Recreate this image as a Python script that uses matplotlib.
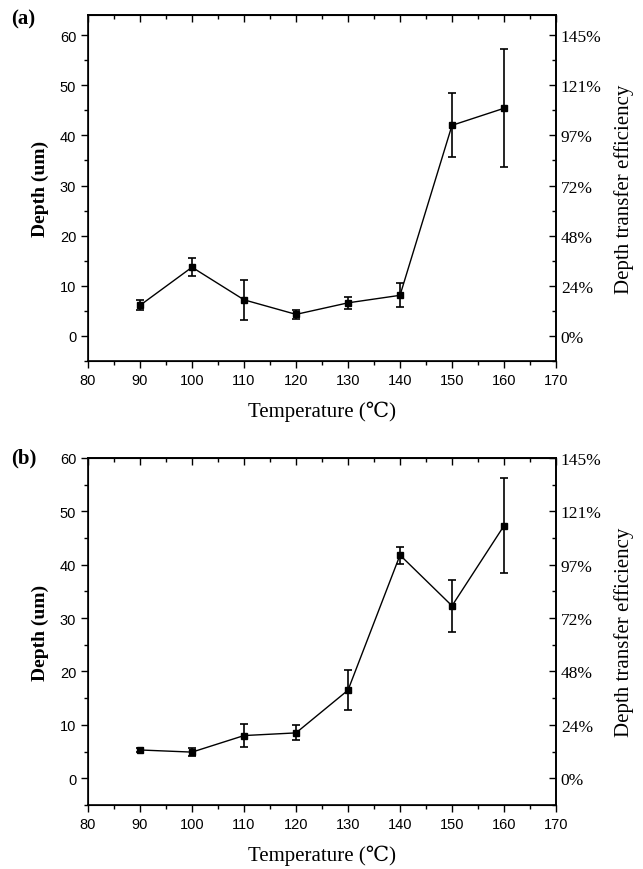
import matplotlib.pyplot as plt
from matplotlib.ticker import MultipleLocator, FuncFormatter

# temperatures (C)
temps = [90, 100, 110, 120, 130, 140, 150, 160]

# panel (a)
depth_a = [6.1, 13.7, 7.2, 4.3, 6.6, 8.1, 42.0, 45.4]
err_a = [1.0, 1.8, 4.0, 0.9, 1.2, 2.4, 6.4, 11.8]

# panel (b)
depth_b = [5.3, 4.9, 8.0, 8.5, 16.5, 41.8, 32.3, 47.3]
err_b = [0.3, 0.7, 2.2, 1.4, 3.7, 1.6, 4.9, 8.9]

panel_tags = ['(a)', '(b)']
ylims = [(-5, 64), (-5, 60)]

serif = ['Liberation Serif', 'DejaVu Serif', 'DejaVu Sans']
sans = ['Liberation Sans', 'DejaVu Sans']

fig = plt.figure(figsize=(6.43, 8.70), dpi=100)
boxes = [[0.1369, 0.5839, 0.7278, 0.3977],
         [0.1369, 0.0736, 0.7278, 0.3989]]

for i, (depth, err) in enumerate([(depth_a, err_a), (depth_b, err_b)]):
    ax = fig.add_axes(boxes[i])
    ax.errorbar(temps, depth, yerr=err, color='black', lw=1.0,
                marker='s', markersize=5, capsize=3, elinewidth=1.2,
                capthick=1.2)
    ax.set_xlim(80, 170)
    ax.set_ylim(*ylims[i])
    ax.xaxis.set_major_locator(MultipleLocator(10))
    ax.xaxis.set_minor_locator(MultipleLocator(5))
    ax.yaxis.set_major_locator(MultipleLocator(10))
    ax.yaxis.set_minor_locator(MultipleLocator(5))
    ax.tick_params(which='both', direction='out', top=False, right=False,
                   width=1.0)
    ax.tick_params(which='major', length=5)
    ax.tick_params(which='minor', length=3)
    for lab in ax.get_xticklabels() + ax.get_yticklabels():
        lab.set_family(sans)
        lab.set_fontsize(10.5)
    for s in ax.spines.values():
        s.set_linewidth(1.2)

    # inward ticks on top
    top = ax.secondary_xaxis('top')
    top.xaxis.set_major_locator(MultipleLocator(10))
    top.xaxis.set_minor_locator(MultipleLocator(5))
    top.tick_params(which='both', direction='in', labeltop=False, width=1.0)
    top.tick_params(which='major', length=5)
    top.tick_params(which='minor', length=3)
    top.spines['top'].set_linewidth(1.2)

    # right axis: depth transfer efficiency
    ax2 = ax.twinx()
    ax2.set_ylim(*ylims[i])
    ax2.yaxis.set_major_locator(MultipleLocator(10))
    ax2.yaxis.set_minor_locator(MultipleLocator(5))
    ax2.yaxis.set_major_formatter(
        FuncFormatter(lambda v, p: '' if v < 0 else f'{v * 145 / 60:.0f}%'))
    ax2.tick_params(which='both', direction='in', width=1.0)
    ax2.tick_params(which='major', length=5)
    ax2.tick_params(which='minor', length=3)
    for lab in ax2.get_yticklabels():
        lab.set_family(serif)
        lab.set_fontsize(12.5)
    ax2.spines['right'].set_linewidth(1.2)

    ax.set_xlabel('Temperature (℃)', family=serif, fontsize=15,
                  labelpad=10)
    ax.set_ylabel('Depth (um)', family=serif, fontsize=14,
                  fontweight='bold', labelpad=8)
    ax2.set_ylabel('Depth transfer efficiency', family=serif, fontsize=15,
                   labelpad=9)
    ax.text(-0.165, 1.0 if i == 1 else 0.99, panel_tags[i],
            transform=ax.transAxes, family=serif, fontsize=15,
            fontweight='bold', va='center', ha='left')

fig.savefig('out.png', dpi=100)
